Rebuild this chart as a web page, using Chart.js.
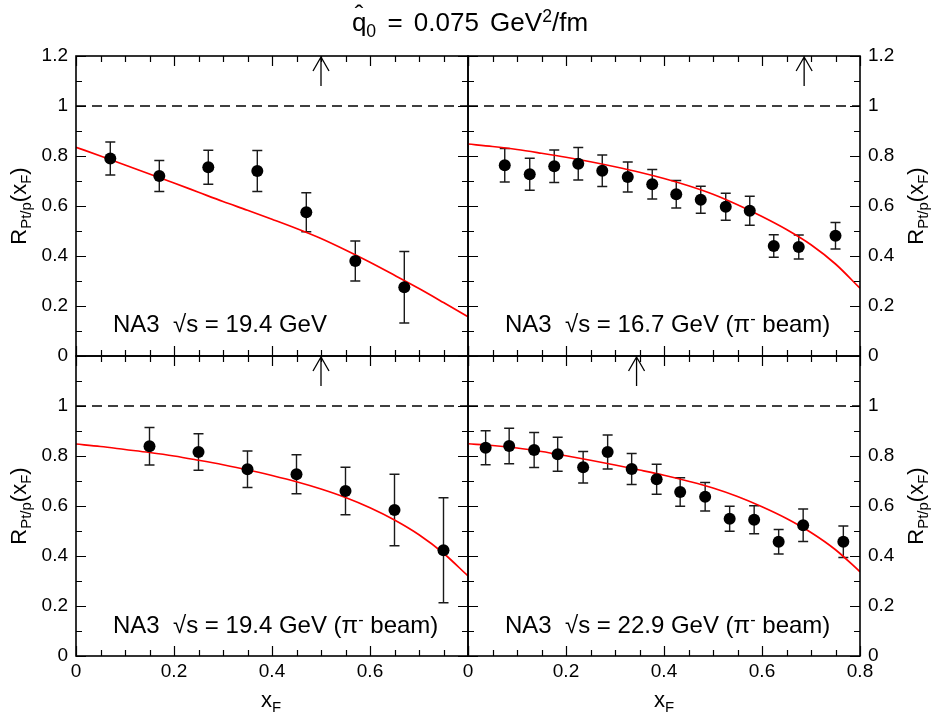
<!DOCTYPE html>
<html><head><meta charset="utf-8">
<script src="https://cdn.jsdelivr.net/npm/chart.js@4/dist/chart.umd.min.js"></script>
<style>
html,body{margin:0;padding:0;background:#fff;}
body{width:936px;height:723px;position:relative;overflow:hidden;font-family:'Liberation Sans',Arial,Helvetica,sans-serif;color:#000;}
canvas{position:absolute;left:0;top:0;}
.t{position:absolute;white-space:nowrap;line-height:1;}
.t sub{font-size:0.68em;vertical-align:-0.32em;line-height:0;}
.t sup{font-size:0.68em;vertical-align:0.5em;line-height:0;}
.lab{font-size:24px;}
.yt{font-size:22px;transform:translate(-50%,-50%) rotate(-90deg);}
.xt{font-size:22px;transform:translateX(-50%);}
.hat{position:relative;display:inline-block;}
.hat .h{position:absolute;left:0;right:0;text-align:center;top:-0.3em;font-size:1em;}
</style>
</head><body>
<canvas id="cTL" width="936" height="723"></canvas>
<canvas id="cTR" width="936" height="723"></canvas>
<canvas id="cBL" width="936" height="723"></canvas>
<canvas id="cBR" width="936" height="723"></canvas>

<div class="t" style="left:470px;top:9px;font-size:26px;word-spacing:4px;transform:translateX(-50%);"><span class="hat">q<span class="h">ˆ</span></span><sub>0</sub> = 0.075 GeV<sup>2</sup>/fm</div>

<div class="t lab" style="left:113px;top:312px;">NA3&nbsp;&nbsp;√s = 19.4 GeV</div>
<div class="t lab" style="left:505px;top:312px;">NA3&nbsp;&nbsp;√s = 16.7 GeV (π<sup>-</sup> beam)</div>
<div class="t lab" style="left:113px;top:613px;">NA3&nbsp;&nbsp;√s = 19.4 GeV (π<sup>-</sup> beam)</div>
<div class="t lab" style="left:505px;top:613px;">NA3&nbsp;&nbsp;√s = 22.9 GeV (π<sup>-</sup> beam)</div>

<div class="t yt" style="left:19px;top:206px;">R<sub>Pt/p</sub>(x<sub>F</sub>)</div>
<div class="t yt" style="left:19px;top:506px;">R<sub>Pt/p</sub>(x<sub>F</sub>)</div>
<div class="t yt" style="left:916px;top:206px;">R<sub>Pt/p</sub>(x<sub>F</sub>)</div>
<div class="t yt" style="left:916px;top:506px;">R<sub>Pt/p</sub>(x<sub>F</sub>)</div>

<div class="t xt" style="left:271px;top:689px;">x<sub>F</sub></div>
<div class="t xt" style="left:664px;top:689px;">x<sub>F</sub></div>

<script>
// ---------- data ----------
// NA3 sqrt(s)=19.4 GeV (proton beam) - top left
const xTL = [0.07, 0.17, 0.27, 0.37, 0.47, 0.57, 0.67];
const yTL = [0.79, 0.72, 0.755, 0.74, 0.575, 0.38, 0.275];
const eTL = [0.066, 0.062, 0.068, 0.082, 0.078, 0.08, 0.143];

// NA3 sqrt(s)=16.7 GeV (pi- beam) - top right
const xTR = [0.075, 0.126, 0.176, 0.225, 0.274, 0.326, 0.376, 0.425, 0.475, 0.526, 0.575, 0.624, 0.675, 0.75];
const yTR = [0.763, 0.727, 0.759, 0.769, 0.741, 0.716, 0.687, 0.647, 0.625, 0.597, 0.581, 0.44, 0.436, 0.481];
const eTR = [0.067, 0.064, 0.065, 0.065, 0.063, 0.06, 0.059, 0.055, 0.054, 0.054, 0.058, 0.045, 0.048, 0.053];

// NA3 sqrt(s)=19.4 GeV (pi- beam) - bottom left
const xBL = [0.15, 0.25, 0.35, 0.45, 0.55, 0.65, 0.75];
const yBL = [0.839, 0.816, 0.747, 0.727, 0.66, 0.584, 0.423];
const eBL = [0.075, 0.073, 0.073, 0.078, 0.095, 0.143, 0.21];

// NA3 sqrt(s)=22.9 GeV (pi- beam) - bottom right
const xBR = [0.036, 0.084, 0.135, 0.183, 0.235, 0.285, 0.334, 0.385, 0.433, 0.484, 0.534, 0.584, 0.634, 0.684, 0.766];
const yBR = [0.833, 0.84, 0.824, 0.807, 0.755, 0.816, 0.748, 0.707, 0.656, 0.637, 0.549, 0.545, 0.457, 0.523, 0.457];
const eBR = [0.068, 0.071, 0.07, 0.068, 0.063, 0.068, 0.062, 0.06, 0.057, 0.057, 0.05, 0.056, 0.049, 0.065, 0.063];

// model curves (q0hat = 0.075 GeV^2/fm)
const modelX  = [0, 0.05, 0.1, 0.15, 0.2, 0.25, 0.3, 0.35, 0.4, 0.45, 0.5, 0.55, 0.6, 0.65, 0.7, 0.75, 0.8];
const modelTL = [0.835, 0.8, 0.764, 0.728, 0.692, 0.655, 0.618, 0.583, 0.547, 0.51, 0.47, 0.424, 0.375, 0.323, 0.27, 0.214, 0.157];
const modelTR = [0.848, 0.838, 0.826, 0.811, 0.795, 0.777, 0.757, 0.735, 0.71, 0.681, 0.647, 0.605, 0.558, 0.506, 0.445, 0.368, 0.271];
const modelBL = [0.848, 0.838, 0.826, 0.814, 0.8, 0.783, 0.765, 0.745, 0.722, 0.697, 0.668, 0.634, 0.593, 0.544, 0.485, 0.411, 0.32];
const modelBR = [0.849, 0.842, 0.832, 0.818, 0.801, 0.783, 0.764, 0.744, 0.723, 0.699, 0.672, 0.638, 0.597, 0.55, 0.494, 0.425, 0.337];

// arrow positions (x_F) per panel: TL, TR, BL, BR
const arrowX = [0.5, 0.686, 0.5, 0.344];
const unityLevel = 1;

// tick labels
const xTicksFull = [0, 0.2, 0.4, 0.6, 0.8];
const xTicksLeft = [0, 0.2, 0.4, 0.6];
const yTicksFull = [0, 0.2, 0.4, 0.6, 0.8, 1, 1.2];
const yTicksLow  = [0, 0.2, 0.4, 0.6, 0.8, 1];

// ---------- drawing ----------
const FONT = "'Liberation Sans', Arial, Helvetica, sans-serif";
const W = 936, H = 723;
const PL = 76, PM = 468, PR = 860, PT = 56, PMID = 356, PB = 656;

function panelPlugin(ax) {
  return {
    id: 'panelDeco',
    beforeDatasetsDraw(chart) {
      const ctx = chart.ctx, xs = chart.scales.x, ys = chart.scales.y;
      const ds = chart.data.datasets[0];
      ctx.save();
      ctx.strokeStyle = '#1a1a1a';
      ctx.lineWidth = 1.4;
      ds.data.forEach((p, i) => {
        const e = ds.errors[i];
        const px = xs.getPixelForValue(p.x);
        const y1 = ys.getPixelForValue(p.y + e), y2 = ys.getPixelForValue(p.y - e);
        ctx.beginPath();
        ctx.moveTo(px, y1); ctx.lineTo(px, y2);
        ctx.moveTo(px - 5, y1); ctx.lineTo(px + 5, y1);
        ctx.moveTo(px - 5, y2); ctx.lineTo(px + 5, y2);
        ctx.stroke();
      });
      ctx.restore();
    },
    afterDraw(chart) {
      const ctx = chart.ctx, a = chart.chartArea, xs = chart.scales.x, ys = chart.scales.y;
      ctx.save();
      ctx.strokeStyle = '#000';
      ctx.lineWidth = 1.2;
      ctx.beginPath();
      for (let k = 0; k <= 16; k++) {
        const px = Math.round(xs.getPixelForValue(k * 0.05)) + 0.5;
        const L = (k % 4 === 0) ? 10 : 6;
        ctx.moveTo(px, a.top); ctx.lineTo(px, a.top + L);
        ctx.moveTo(px, a.bottom); ctx.lineTo(px, a.bottom - L);
      }
      for (let k = 0; k <= 12; k++) {
        const py = Math.round(ys.getPixelForValue(k * 0.1)) + 0.5;
        const L = (k % 2 === 0) ? 10 : 6;
        ctx.moveTo(a.left, py); ctx.lineTo(a.left + L, py);
        ctx.moveTo(a.right, py); ctx.lineTo(a.right - L, py);
      }
      ctx.stroke();
      ctx.lineWidth = 1.6;
      ctx.strokeRect(a.left, a.top, a.right - a.left, a.bottom - a.top);
      // arrow
      const x0 = xs.getPixelForValue(ax);
      const yt = ys.getPixelForValue(1.2), yb = ys.getPixelForValue(1.08);
      ctx.lineWidth = 1.3;
      ctx.beginPath();
      ctx.moveTo(x0, yb); ctx.lineTo(x0, yt);
      ctx.moveTo(x0 - 8, yt + 15); ctx.lineTo(x0, yt + 1); ctx.lineTo(x0 + 8, yt + 15);
      ctx.stroke();
      ctx.restore();
    }
  };
}

function makePanel(id, xs, ys, es, model, ax, o) {
  const pts = xs.map((x, i) => ({x: x, y: ys[i]}));
  const curve = modelX.map((x, i) => ({x: x, y: model[i]}));
  new Chart(document.getElementById(id), {
    type: 'scatter',
    data: {
      datasets: [
        {data: pts, errors: es, pointRadius: 6, pointHoverRadius: 6, pointBackgroundColor: '#000',
         pointBorderColor: '#000', pointBorderWidth: 0, showLine: false},
        {type: 'line', data: curve, borderColor: '#ff0000', borderWidth: 1.7, pointRadius: 0,
         cubicInterpolationMode: 'monotone', fill: false},
        {type: 'line', data: [{x: 0, y: unityLevel}, {x: 0.8, y: unityLevel}], borderColor: '#000',
         borderWidth: 1.5, borderDash: [10, 6], pointRadius: 0, fill: false}
      ]
    },
    options: {
      responsive: false, animation: false, devicePixelRatio: 1,
      events: [],
      layout: {padding: o.pad},
      plugins: {legend: {display: false}, tooltip: {enabled: false}},
      scales: {
        x: {
          type: 'linear', min: 0, max: 0.8, display: o.showX,
          grid: {display: false, drawTicks: false}, border: {display: false},
          afterBuildTicks: s => { s.ticks = o.xTicks.map(v => ({value: v})); },
          afterFit: s => { s.height = o.showX ? 30 : 0; },
          ticks: {padding: 4, color: '#000', font: {family: FONT, size: 19},
                  callback: v => String(+v.toFixed(2))}
        },
        y: {
          type: 'linear', min: 0, max: 1.2, position: o.yPos,
          grid: {display: false, drawTicks: false}, border: {display: false},
          afterBuildTicks: s => { s.ticks = o.yTicks.map(v => ({value: v})); },
          afterFit: s => { s.width = 60; },
          ticks: {padding: 8, color: '#000', font: {family: FONT, size: 19},
                  callback: v => String(+v.toFixed(2))}
        }
      }
    },
    plugins: [panelPlugin(ax)]
  });
}

makePanel('cTL', xTL, yTL, eTL, modelTL, arrowX[0], {
  pad: {left: PL - 60, right: W - PM, top: PT, bottom: H - PMID},
  showX: false, xTicks: xTicksFull, yPos: 'left', yTicks: yTicksFull});
makePanel('cTR', xTR, yTR, eTR, modelTR, arrowX[1], {
  pad: {left: PM, right: W - PR - 60, top: PT, bottom: H - PMID},
  showX: false, xTicks: xTicksFull, yPos: 'right', yTicks: yTicksFull});
makePanel('cBL', xBL, yBL, eBL, modelBL, arrowX[2], {
  pad: {left: PL - 60, right: W - PM, top: PMID, bottom: H - PB - 30},
  showX: true, xTicks: xTicksLeft, yPos: 'left', yTicks: yTicksLow});
makePanel('cBR', xBR, yBR, eBR, modelBR, arrowX[3], {
  pad: {left: PM, right: W - PR - 60, top: PMID, bottom: H - PB - 30},
  showX: true, xTicks: xTicksFull, yPos: 'right', yTicks: yTicksLow});
</script>
</body></html>
